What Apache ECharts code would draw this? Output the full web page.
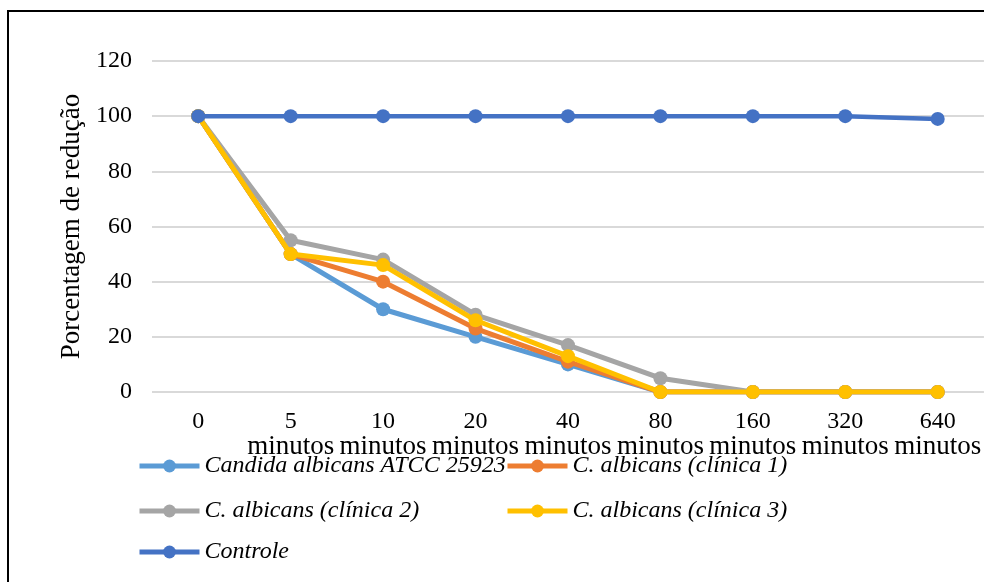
<!DOCTYPE html>
<html><head><meta charset="utf-8">
<script src="https://cdn.jsdelivr.net/npm/echarts@6/dist/echarts.min.js"></script>
<style>html,body{margin:0;padding:0;background:#fff}#c{width:984px;height:582px}</style>
</head><body><div id="c"></div>
<script>
const categories = ["0", "5\nminutos", "10\nminutos", "20\nminutos", "40\nminutos", "80\nminutos", "160\nminutos", "320\nminutos", "640\nminutos"];
const seriesNames = ["Candida albicans ATCC 25923", "C. albicans (clínica 1)", "C. albicans (clínica 2)", "C. albicans (clínica 3)", "Controle"];
const atcc = [100, 50, 30, 20, 10, 0, 0, 0, 0];
const clinica1 = [100, 50, 40, 23, 11, 0, 0, 0, 0];
const clinica2 = [100, 55, 48, 28, 17, 5, 0, 0, 0];
const clinica3 = [100, 50, 46, 26, 13, 0, 0, 0, 0];
const controle = [100, 100, 100, 100, 100, 100, 100, 100, 99];
const yTicks = [0, 20, 40, 60, 80, 100, 120];

const colors = ["#5B9BD5", "#ED7D31", "#A5A5A5", "#FFC000", "#4472C4"];
const values = [atcc, clinica1, clinica2, clinica3, controle];
const font = "'Liberation Serif', 'Times New Roman', serif";

const chart = echarts.init(document.getElementById('c'), null, {renderer: 'canvas'});
const legendText = {fontFamily: font, fontStyle: 'italic', fontSize: 24, color: '#000'};
function legend(idx, left, top) {
  return {data: [seriesNames[idx]], left: left, top: top, itemWidth: 60, itemHeight: 16, itemGap: 0,
    orient: 'horizontal', textStyle: legendText, padding: 0, selectedMode: false,
    lineStyle: {width: 5, color: colors[idx]}, itemStyle: {color: colors[idx]}};
}
chart.setOption({
  animation: false,
  color: colors,
  graphic: [{type: 'rect', shape: {x: 8, y: 11, width: 1000, height: 600},
    style: {fill: 'none', stroke: '#000', lineWidth: 2}, z: 100}],
  grid: {left: 152, top: 61, width: 836, height: 331, containLabel: false},
  legend: [
    legend(0, 137, 454),
    legend(1, 505, 454),
    legend(2, 137, 499),
    legend(3, 505, 499),
    legend(4, 137, 540)
  ],
  xAxis: {type: 'category', data: categories, boundaryGap: true,
    axisLine: {show: false}, axisTick: {show: false},
    axisLabel: {color: '#000', margin: 18, interval: 0,
      formatter: function (v) {
        const p = v.split('\n');
        return p.length > 1 ? '{n|' + p[0] + '}\n{m|' + p[1] + '}' : '{n|' + p[0] + '}';
      },
      rich: {
        n: {fontFamily: font, fontSize: 24, color: '#000', lineHeight: 24},
        m: {fontFamily: font, fontSize: 27, color: '#000', lineHeight: 26}
      }}},
  yAxis: {type: 'value', min: yTicks[0], max: yTicks[yTicks.length - 1], interval: 20,
    name: 'Porcentagem de redução', nameLocation: 'middle', nameGap: 60,
    nameTextStyle: {fontFamily: font, fontSize: 27, color: '#000'},
    axisLine: {show: false}, axisTick: {show: false},
    axisLabel: {fontFamily: font, fontSize: 24, color: '#000', margin: 20},
    splitLine: {lineStyle: {color: '#D9D9D9', width: 2}}},
  series: seriesNames.map((n, i) => ({
    name: n, type: 'line', data: values[i], symbol: 'circle', symbolSize: 14,
    lineStyle: {width: i === 4 ? 4.5 : 5, color: colors[i]}, itemStyle: {color: colors[i]},
    z: 2 + i
  }))
});
</script></body></html>
